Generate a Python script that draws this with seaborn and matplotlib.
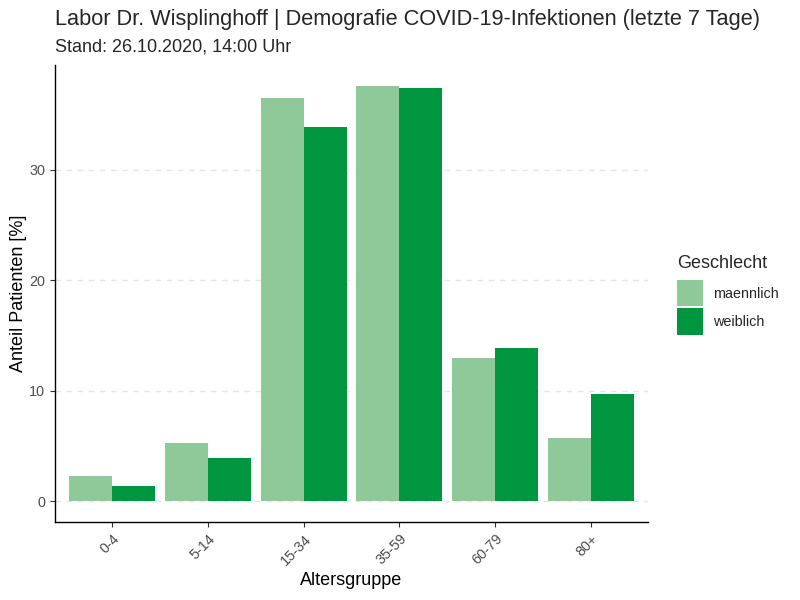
import matplotlib
matplotlib.use("Agg")
import matplotlib.pyplot as plt
from matplotlib.patches import Patch
import seaborn as sns
import pandas as pd

age_groups = ["0-4", "5-14", "15-34", "35-59", "60-79", "80+"]
male_pct = [2.25, 5.23, 36.45, 37.6, 12.93, 5.71]
female_pct = [1.35, 3.87, 33.9, 37.43, 13.83, 9.68]
sex_labels = ["maennlich", "weiblich"]
colors = ["#8FC899", "#009640"]

df = pd.DataFrame({
    "Altersgruppe": age_groups * 2,
    "Anteil": male_pct + female_pct,
    "Geschlecht": [sex_labels[0]] * 6 + [sex_labels[1]] * 6,
})

sns.set_style("white")
plt.rcParams["font.family"] = ["Liberation Sans", "DejaVu Sans"]

fig = plt.figure(figsize=(8, 6), dpi=100)
ax = fig.add_axes([55 / 800, 1 - 522 / 600, (648 - 55) / 800, (522 - 65) / 600])

sns.barplot(data=df, x="Altersgruppe", y="Anteil", hue="Geschlecht",
            order=age_groups, hue_order=sex_labels, palette=colors,
            width=0.9, gap=0, saturation=1, ax=ax, errorbar=None, linewidth=0)

ymax = max(male_pct + female_pct)
ax.set_ylim(-0.05 * ymax, 1.05 * ymax)
ax.set_xlim(-0.6, len(age_groups) - 1 + 0.6)
ax.set_yticks([0, 10, 20, 30])
for v in [0, 10, 20, 30]:
    ax.axhline(v, color="#E5E5E5", linestyle=(0, (4, 4)), linewidth=1, zorder=0)
ax.set_axisbelow(True)

for s in ["top", "right"]:
    ax.spines[s].set_visible(False)
for s in ["left", "bottom"]:
    ax.spines[s].set_color("black")
    ax.spines[s].set_linewidth(1)

ax.tick_params(axis="both", labelcolor="#4D4D4D", labelsize=10.4, length=3.5, width=0.8,
               direction="out", left=True, bottom=True, color="#333333")
plt.setp(ax.get_xticklabels(), rotation=45, ha="right", rotation_mode="anchor")

ax.set_xlabel("Altersgruppe", fontsize=13, color="black", labelpad=3)
ax.set_ylabel("Anteil Patienten [%]", fontsize=13, color="black")
ax.yaxis.set_label_coords((27 - 55) / 593, 0.5)

fig.text(55 / 800, 1 - 20 / 600, "Labor Dr. Wisplinghoff | Demografie COVID-19-Infektionen (letzte 7 Tage)",
         fontsize=15.7, va="center", ha="left")
fig.text(55 / 800, 1 - 47 / 600, "Stand: 26.10.2020, 14:00 Uhr",
         fontsize=13, va="center", ha="left")

ax.get_legend().remove()
fig.text(677 / 800, 1 - 268 / 600, "Geschlecht", fontsize=13, va="baseline", ha="left")
handles = [Patch(facecolor=c, edgecolor="none") for c in colors]
fig.legend(handles, sex_labels, loc="upper left",
           bbox_to_anchor=(677 / 800, 1 - 280 / 600), frameon=False,
           fontsize=10.4, handlelength=1.8, handleheight=2.44,
           labelspacing=0.14, handletextpad=0.69, borderaxespad=0, borderpad=0)

fig.savefig("out.png", dpi=100)
